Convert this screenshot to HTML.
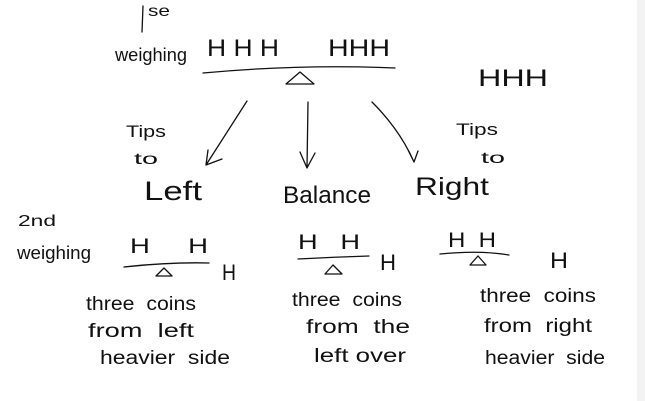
<!DOCTYPE html>
<html><head><meta charset="utf-8"><style>
html,body{margin:0;padding:0;background:#fff;}
svg{display:block}
text{font-family:"Liberation Sans",sans-serif;fill:#111;}
</style></head><body>
<svg width="645" height="401" viewBox="0 0 645 401" xmlns="http://www.w3.org/2000/svg">
<rect x="0" y="0" width="645" height="401" fill="#fff"/>
<rect x="637" y="0" width="8" height="401" fill="#f3f3f3"/>
<g stroke="#111" stroke-width="1.3" fill="none" stroke-linecap="round" stroke-linejoin="round">
<!-- 1st -->
<path d="M143 6 L142 32"/>
<!-- beam 1 -->
<path d="M203 73 Q300 64 395 68"/>
<path d="M286 84 L300 72 L314 84 Z"/>
<!-- arrows -->
<path d="M247 101 L206 165 M206 165 L222 159 M206 165 L208 150"/>
<path d="M308 102 L307 168 M307 168 L300 152 M307 168 L315 153"/>
<path d="M372 102 Q400 130 414 162 M414 162 L408 150 M414 162 L418 151"/>
<!-- second weighing scales -->
<path d="M124 267 Q170 262 209 263"/>
<path d="M156 276 L164 268 L172 276 Z"/>
<path d="M298 259 Q335 257 369 256"/>
<path d="M325 274 L333 265 L342 274 Z"/>
<path d="M440 254 Q480 250 509 255"/>
<path d="M470 265 L478 256 L486 265 Z"/>
</g>
<text x="148" y="16" font-size="16" textLength="22" lengthAdjust="spacingAndGlyphs">se</text>
<text x="115" y="61" font-size="18" textLength="72" lengthAdjust="spacingAndGlyphs">weighing</text>
<text x="207" y="56" font-size="24" textLength="72" lengthAdjust="spacingAndGlyphs">H H H</text>
<text x="328" y="56" font-size="24" textLength="62" lengthAdjust="spacingAndGlyphs">HHH</text>
<text x="478" y="86" font-size="24" textLength="70" lengthAdjust="spacingAndGlyphs">HHH</text>
<text x="126" y="137" font-size="17" textLength="40" lengthAdjust="spacingAndGlyphs">Tips</text>
<text x="134" y="164" font-size="16" textLength="24" lengthAdjust="spacingAndGlyphs">to</text>
<text x="456" y="135" font-size="17" textLength="42" lengthAdjust="spacingAndGlyphs">Tips</text>
<text x="481" y="163" font-size="16" textLength="24" lengthAdjust="spacingAndGlyphs">to</text>
<text x="144" y="200" font-size="27" textLength="58" lengthAdjust="spacingAndGlyphs">Left</text>
<text x="283" y="203" font-size="24" textLength="88" lengthAdjust="spacingAndGlyphs">Balance</text>
<text x="415" y="195" font-size="25" textLength="74" lengthAdjust="spacingAndGlyphs">Right</text>
<text x="18" y="226" font-size="16" textLength="38" lengthAdjust="spacingAndGlyphs">2nd</text>
<text x="17" y="259" font-size="18" textLength="74" lengthAdjust="spacingAndGlyphs">weighing</text>
<text x="130" y="253" font-size="21" textLength="78" lengthAdjust="spacingAndGlyphs">H&#160;&#160;&#160;&#160;&#160;H</text>
<text x="222" y="280" font-size="22" textLength="14" lengthAdjust="spacingAndGlyphs">H</text>
<text x="298" y="249" font-size="21" textLength="62" lengthAdjust="spacingAndGlyphs">H&#160;&#160;&#160;H</text>
<text x="380" y="270" font-size="22" textLength="16" lengthAdjust="spacingAndGlyphs">H</text>
<text x="448" y="247" font-size="21" textLength="48" lengthAdjust="spacingAndGlyphs">H&#160;&#160;H</text>
<text x="550" y="268" font-size="22" textLength="18" lengthAdjust="spacingAndGlyphs">H</text>
<text x="86" y="310" font-size="19" textLength="110" lengthAdjust="spacingAndGlyphs">three&#160;&#160;coins</text>
<text x="88" y="337" font-size="19" textLength="106" lengthAdjust="spacingAndGlyphs">from&#160;&#160;left</text>
<text x="100" y="364" font-size="19" textLength="130" lengthAdjust="spacingAndGlyphs">heavier&#160;&#160;side</text>
<text x="292" y="306" font-size="19" textLength="110" lengthAdjust="spacingAndGlyphs">three&#160;&#160;coins</text>
<text x="306" y="333" font-size="19" textLength="104" lengthAdjust="spacingAndGlyphs">from&#160;&#160;the</text>
<text x="314" y="362" font-size="19" textLength="92" lengthAdjust="spacingAndGlyphs">left over</text>
<text x="480" y="302" font-size="19" textLength="116" lengthAdjust="spacingAndGlyphs">three&#160;&#160;coins</text>
<text x="484" y="332" font-size="19" textLength="108" lengthAdjust="spacingAndGlyphs">from&#160;&#160;right</text>
<text x="485" y="364" font-size="19" textLength="120" lengthAdjust="spacingAndGlyphs">heavier&#160;&#160;side</text>
</svg>
</body></html>
